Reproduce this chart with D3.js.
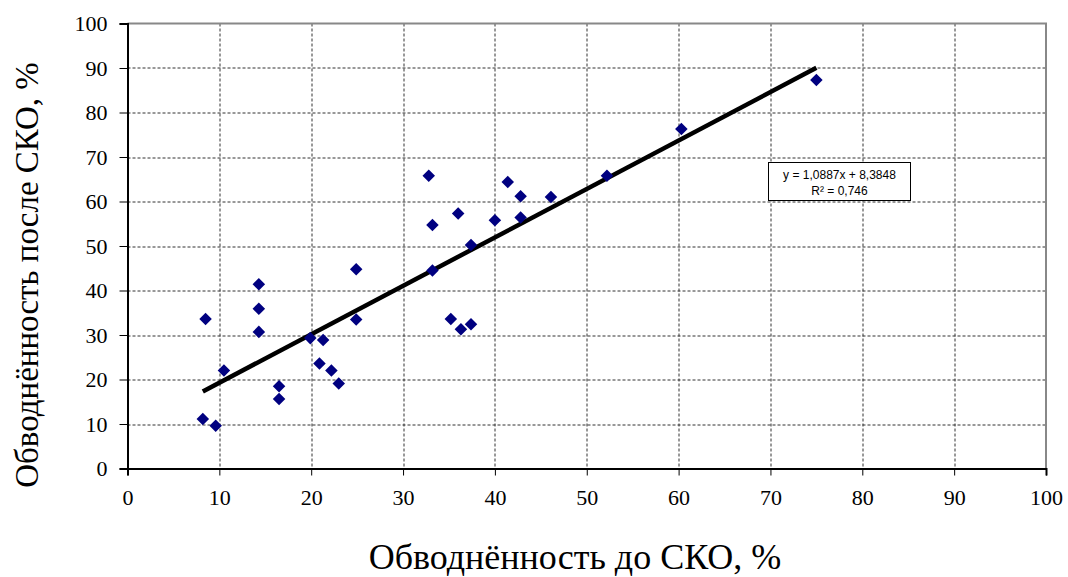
<!DOCTYPE html>
<html>
<head>
<meta charset="utf-8">
<script src="https://cdn.jsdelivr.net/npm/d3@7"></script>
</head>
<body style="margin:0">
<div id="chart"></div>
<script>
// water cut before / after acid treatment, %
var before = [8.5, 8.2, 9.6, 10.5, 14.3, 14.3, 14.3, 16.5, 16.5, 19.9, 21.3, 20.9, 22.2, 23.0,
  24.9, 24.9, 33.2, 35.2, 36.3, 37.4, 32.8, 33.2, 36.0, 37.4, 40.0, 41.4, 42.8, 42.8, 46.1,
  52.2, 60.3, 75.0];
var after = [33.6, 11.1, 9.6, 22.0, 41.4, 35.9, 30.7, 18.5, 15.6, 29.3, 28.9, 23.6, 22.0, 19.1,
  44.8, 33.5, 44.5, 33.6, 31.3, 32.4, 65.8, 54.7, 57.3, 50.2, 55.8, 64.4, 61.2, 56.4, 61.0,
  65.8, 76.3, 87.3];
var xTicks = [0, 10, 20, 30, 40, 50, 60, 70, 80, 90, 100];
var yTicks = [0, 10, 20, 30, 40, 50, 60, 70, 80, 90, 100];
var slope = 1.0887, intercept = 8.3848;
var eqLines = ["y = 1,0887x + 8,3848", "R² = 0,746"];

var svgWidth = 1068, svgHeight = 577;
var margin = { top: 23.5, left: 127.5, right: 22, bottom: 108.5 };
var width = svgWidth - margin.left - margin.right;
var height = svgHeight - margin.top - margin.bottom;
var serifFont = "'Liberation Serif'";

var svg = d3.select("#chart").append("svg")
  .attr("width", svgWidth)
  .attr("height", svgHeight)
  .style("font-family", serifFont);

var g = svg.append("g")
  .attr("transform", "translate(" + margin.left + "," + margin.top + ")");

var x = d3.scaleLinear().domain([0, 100]).range([0, width]);
var y = d3.scaleLinear().domain([0, 100]).range([height, 0]);

// grid
g.append("g").selectAll("line")
  .data(xTicks.filter(d => d > 0 && d < 100))
  .enter().append("line")
  .attr("x1", d => Math.round(x(d)) + 0.5).attr("x2", d => Math.round(x(d)) + 0.5)
  .attr("y1", 0).attr("y2", height)
  .attr("stroke", "#333").attr("stroke-dasharray", "3,2");
g.append("g").selectAll("line")
  .data(yTicks.filter(d => d > 0 && d < 100))
  .enter().append("line")
  .attr("y1", d => Math.round(y(d)) + 0.5).attr("y2", d => Math.round(y(d)) + 0.5)
  .attr("x1", 0).attr("x2", width)
  .attr("stroke", "#333").attr("stroke-dasharray", "3,2");

// top and right frame
g.append("path")
  .attr("d", "M0," + y(100) + "H" + x(100) + "V" + y(0))
  .attr("fill", "none").attr("stroke", "#888").attr("stroke-width", 2);

// axes
var xAxis = g.append("g")
  .attr("transform", "translate(0," + height + ")")
  .call(d3.axisBottom(x).tickValues(xTicks).tickSize(7).tickPadding(14));
var yAxis = g.append("g")
  .call(d3.axisLeft(y).tickValues(yTicks).tickSize(8).tickPadding(12));
[xAxis, yAxis].forEach(function (a) {
  a.attr("font-family", null).attr("font-size", null);
  a.select(".domain").attr("stroke", "#000").attr("stroke-width", 2);
  a.selectAll(".tick line").attr("stroke", "#000");
  a.selectAll("text")
    .style("font-family", serifFont).attr("font-size", 22).attr("fill", "#000");
});

// trend line
var xMin = d3.min(before), xMax = d3.max(before);
g.append("line")
  .attr("x1", x(xMin)).attr("y1", y(slope * xMin + intercept))
  .attr("x2", x(xMax)).attr("y2", y(slope * xMax + intercept))
  .attr("stroke", "#000").attr("stroke-width", 4.5);

// points
var data = before.map((b, i) => ({ b: b, a: after[i] }));
g.append("g").selectAll("path")
  .data(data)
  .enter().append("path")
  .attr("d", d3.symbol().type(d3.symbolDiamond2).size(100))
  .attr("transform", d => "translate(" + x(d.b) + "," + y(d.a) + ")")
  .attr("fill", "#000080");

// equation box
var box = g.append("g").attr("transform", "translate(" + (768.5 - margin.left) + "," + (162.5 - margin.top) + ")");
box.append("rect")
  .attr("width", 142).attr("height", 38)
  .attr("fill", "#fff").attr("stroke", "#000").attr("stroke-width", 1);
box.selectAll("text")
  .data(eqLines)
  .enter().append("text")
  .attr("x", 71).attr("y", (d, i) => 16 + i * 16)
  .attr("text-anchor", "middle")
  .style("font-family", "'Liberation Sans'")
  .attr("font-size", 12)
  .text(d => d);

// axis titles
svg.append("text")
  .attr("x", 575).attr("y", 569)
  .attr("text-anchor", "middle")
  .style("font-family", serifFont).attr("font-size", 36)
  .text("Обводнённость до СКО, %");
svg.append("text")
  .attr("transform", "translate(38,275) rotate(-90)")
  .attr("text-anchor", "middle")
  .style("font-family", serifFont).attr("font-size", 33)
  .text("Обводнённость после СКО, %");
</script>
</body>
</html>
